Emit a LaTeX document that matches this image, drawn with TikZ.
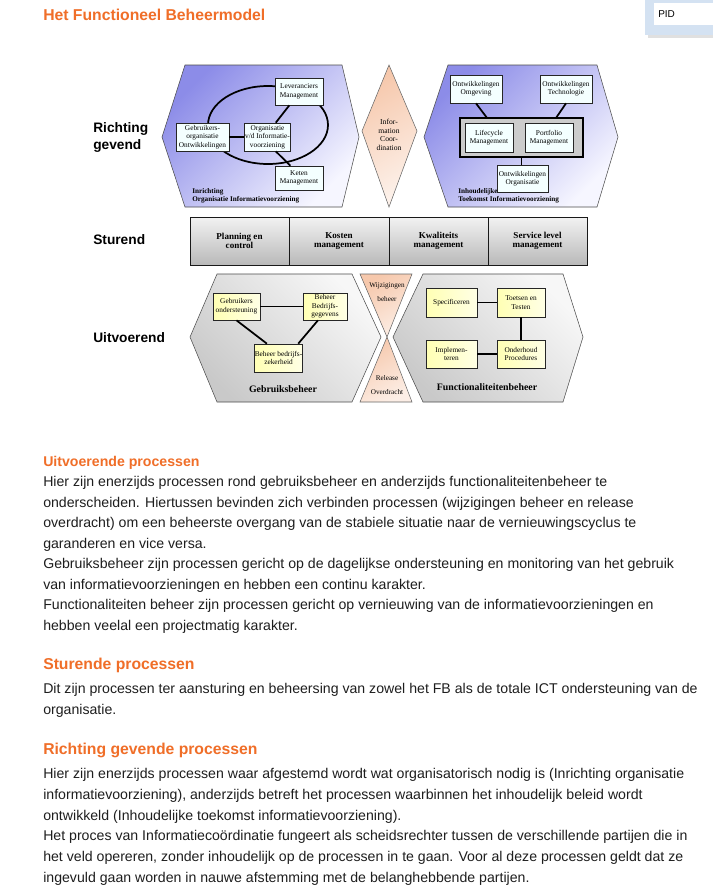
\documentclass[tikz,border=0pt]{standalone}
\usepackage{fontspec}
\setmainfont{Liberation Serif}
\newfontfamily\arial{Liberation Sans}
\definecolor{orng}{RGB}{240,110,40}
\definecolor{txt}{RGB}{30,30,30}
\definecolor{lav}{RGB}{140,140,232}
\definecolor{lavl}{RGB}{246,246,255}
\definecolor{peach}{RGB}{246,200,172}
\definecolor{cyanw}{RGB}{244,255,255}
\definecolor{ylw}{RGB}{255,255,180}
\definecolor{pidblue}{RGB}{212,226,242}
\begin{document}
\begin{tikzpicture}[x=0.75pt,y=-0.75pt,
 sz/.style args={#1x#2}{minimum width=#1*0.75pt,minimum height=#2*0.75pt},
 tbox/.style={draw=black!85,line width=0.5pt,fill=cyanw,inner sep=0.4pt,align=center,font=\fontsize{5.5}{6.3}\selectfont},
 ybox/.style={draw=black!85,line width=0.5pt,left color=ylw,right color=ylw!35!white,inner sep=0.4pt,align=center,font=\fontsize{5.5}{6.5}\selectfont},
 conn/.style={line width=1.3pt},
 scell/.style={draw=black!90,line width=0.6pt,top color=gray!10,bottom color=gray!55,inner sep=0pt,align=center,font=\bfseries\fontsize{6.8}{7}\selectfont},
 lvl/.style={anchor=west,inner sep=0pt,align=left,font=\arial\bfseries\fontsize{10.3}{12.75}\selectfont},
 body/.style={anchor=base west,inner sep=0pt,text=txt,font=\arial\fontsize{10.6}{12}\selectfont},
 head/.style={anchor=base west,inner sep=0pt,text=orng,font=\arial\bfseries\fontsize{11.8}{13}\selectfont},
 hexlab/.style={anchor=north west,inner sep=0pt,align=left,font=\bfseries\fontsize{5.4}{6.2}\selectfont},
 smalltxt/.style={inner sep=0pt,align=center,font=\fontsize{5.5}{6.4}\selectfont},
 hexblue/.style={draw=black!70,line width=0.4pt,top color=lav,bottom color=lavl,shading angle=45},
 hexgray/.style={draw=black!70,line width=0.4pt,top color=gray!6,bottom color=gray!42,shading angle=-45},
 tri/.style={draw=black!60,line width=0.4pt,top color=peach,bottom color=peach!30!white,shading angle=30},
]
\fill[white] (0,0) rectangle (713,894);
\path[use as bounding box] (0,0) rectangle (713,894);

% PID widget
\fill[black!12] (648,-2) rectangle (713,38);
\fill[pidblue] (645,-4) rectangle (713,35);
\fill[white] (654,3) rectangle (713,25);
\node[anchor=west,inner sep=0pt,font=\arial\fontsize{7.5}{8}\selectfont] (pid) at (658,14) {PID};

% title
\node[head] (title) at (43,20) {Het Functioneel Beheermodel};

% level labels
\node[lvl] (lR) at (93,137) {Richting\\gevend};
\node[lvl] (lS) at (93,240) {Sturend};
\node[lvl] (lU) at (93,338) {Uitvoerend};

% ---- top-left hexagon
\shade[hexblue] (162,137) -- (185,65) -- (342,65) -- (359,137) -- (342,207) -- (185,207) -- cycle;
\draw[conn] (268,125) ellipse [x radius=60, y radius=39];
\node[tbox,sz=48x27] (lev) at (299,91.5) {Leveranciers\\Management};
\node[tbox,sz=53x28] (geb) at (202.5,137) {Gebruikers-\\organisatie\\Ontwikkelingen};
\node[tbox,sz=41x28] (org) at (267.5,137) {Organisatie\\v/d Informatie-\\voorziening};
\node[tbox,sz=48x24] (ket) at (299,178) {Keten\\Management};
\draw[conn] (geb.east) -- (org.west);
\draw[conn] (org.60) -- (lev.235);
\draw[conn] (org.-60) -- (ket.125);
\node[hexlab] (inr) at (192,188) {Inrichting\\Organisatie Informatievoorziening};

% ---- diamond
\shade[draw=black!60,line width=0.4pt,top color=peach,bottom color=peach!25!white,shading angle=30] (389,65) -- (417,131) -- (389,207) -- (362,131) -- cycle;
\node[smalltxt,font=\fontsize{5.7}{6.5}\selectfont] (ic) at (389,135) {Infor-\\mation\\Coor-\\dination};

% ---- top-right hexagon
\shade[hexblue] (424,137) -- (448,65) -- (597,65) -- (618,137) -- (597,207) -- (448,207) -- cycle;
\node[tbox,sz=52x28] (omg) at (476,89) {Ontwikkelingen\\Omgeving};
\node[tbox,sz=52x28] (tech) at (566,89) {Ontwikkelingen\\Technologie};
\node[draw=black,line width=1pt,fill=gray!40,sz=123x39] (grp) at (521.5,137.5) {};
\node[tbox,sz=48x29] (life) at (489,137.5) {Lifecycle\\Management};
\node[tbox,sz=48x29] (port) at (549,137.5) {Portfolio\\Management};
\node[tbox,sz=51x27] (orgo) at (522.5,178.5) {Ontwikkelingen\\Organisatie};
\draw[conn] (omg.south) -- (grp.150);
\draw[conn] (tech.south) -- (grp.30);
\draw[conn] (grp.south) -- (grp.south |- orgo.north);
\node[hexlab] (inh) at (458,188) {Inhoudelijke\\Toekomst Informatievoorziening};

% ---- Sturend bar
\node[scell,sz=99x48] (pc) at (239.5,241) {Planning en\\control};
\node[scell,sz=100x48] (km) at (339,241) {Kosten\\management};
\node[scell,sz=99x48] (kw) at (438.5,241) {Kwaliteits\\management};
\node[scell,sz=99x48] (sl) at (537.5,241) {Service level\\management};

% ---- bottom-left hexagon
\shade[hexgray] (190,337) -- (217,274) -- (352,274) -- (381,337) -- (352,402) -- (217,402) -- cycle;
\node[ybox,sz=47x27] (go) at (236.5,306.5) {Gebruikers\\ondersteuning};
\node[ybox,sz=44x27] (bbg) at (325,306.5) {Beheer\\Bedrijfs-\\gegevens};
\node[ybox,sz=47x28] (bbz) at (278.5,358) {Beheer bedrijfs-\\zekerheid};
\draw[conn] (go.east) -- (bbg.west);
\draw[conn] (go.south) -- (bbz.129);
\draw[conn] (bbg.-117) -- (bbz.36);
\node[inner sep=0pt,font=\bfseries\fontsize{7.4}{8}\selectfont] (gbh) at (283,389) {Gebruiksbeheer};

% ---- X triangles
\shade[tri] (360,274) -- (412,274) -- (387,337) -- cycle;
\shade[tri] (387,337) -- (412,402) -- (360,402) -- cycle;
\node[smalltxt,font=\fontsize{5.4}{11}\selectfont] (wb) at (387,292) {Wijzigingen\\beheer};
\node[smalltxt,font=\fontsize{5.4}{10.5}\selectfont] (ro) at (387,385) {Release\\Overdracht};

% ---- bottom-right hexagon
\shade[hexgray] (393,337) -- (423,274) -- (563,274) -- (583,337) -- (563,402) -- (423,402) -- cycle;
\node[ybox,sz=51x29] (spec) at (451.5,302.5) {Specificeren};
\node[ybox,sz=48x29] (tt) at (521,302.5) {Toetsen en\\Testen};
\node[ybox,sz=51x28] (imp) at (451.5,354) {Implemen-\\teren};
\node[ybox,sz=48x28] (op) at (521,354) {Onderhoud\\Procedures};
\draw[conn] (spec.east) -- (tt.west);
\draw[conn] (tt.south) -- (op.north);
\draw[conn] (imp.east) -- (op.west);
\node[inner sep=0pt,font=\bfseries\fontsize{7.4}{8}\selectfont] (fbh) at (487,387) {Functionaliteitenbeheer};

% ---- text
\node[head,font=\arial\bfseries\fontsize{10.6}{12}\selectfont] (h1) at (43,466) {Uitvoerende processen};
\node[body] (t1) at (43,486) {Hier zijn enerzijds processen rond gebruiksbeheer en anderzijds functionaliteitenbeheer te};
\node[body] (t2) at (43,507) {onderscheiden. Hiertussen bevinden zich verbinden processen (wijzigingen beheer en release};
\node[body] (t3) at (43,527) {overdracht) om een beheerste overgang van de stabiele situatie naar de vernieuwingscyclus te};
\node[body] (t4) at (43,548) {garanderen en vice versa.};
\node[body] (t5) at (43,568) {Gebruiksbeheer zijn processen gericht op de dagelijkse ondersteuning en monitoring van het gebruik};
\node[body] (t6) at (43,589) {van informatievoorzieningen en hebben een continu karakter.};
\node[body] (t7) at (43,609) {Functionaliteiten beheer zijn processen gericht op vernieuwing van de informatievoorzieningen en};
\node[body] (t8) at (43,630) {hebben veelal een projectmatig karakter.};

\node[head] (h2) at (43,669) {Sturende processen};
\node[body] (s1) at (43,693) {Dit zijn processen ter aansturing en beheersing van zowel het FB als de totale ICT ondersteuning van de};
\node[body] (s2) at (43,714) {organisatie.};

\node[head] (h3) at (43,754) {Richting gevende processen};
\node[body] (r1) at (43,778) {Hier zijn enerzijds processen waar afgestemd wordt wat organisatorisch nodig is (Inrichting organisatie};
\node[body] (r2) at (43,799) {informatievoorziening), anderzijds betreft het processen waarbinnen het inhoudelijk beleid wordt};
\node[body] (r3) at (43,820) {ontwikkeld (Inhoudelijke toekomst informatievoorziening).};
\node[body] (r4) at (43,840) {Het proces van Informatieco\"ordinatie fungeert als scheidsrechter tussen de verschillende partijen die in};
\node[body] (r5) at (43,861) {het veld opereren, zonder inhoudelijk op de processen in te gaan. Voor al deze processen geldt dat ze};
\node[body] (r6) at (43,882) {ingevuld gaan worden in nauwe afstemming met de belanghebbende partijen.};
\end{tikzpicture}
\end{document}
